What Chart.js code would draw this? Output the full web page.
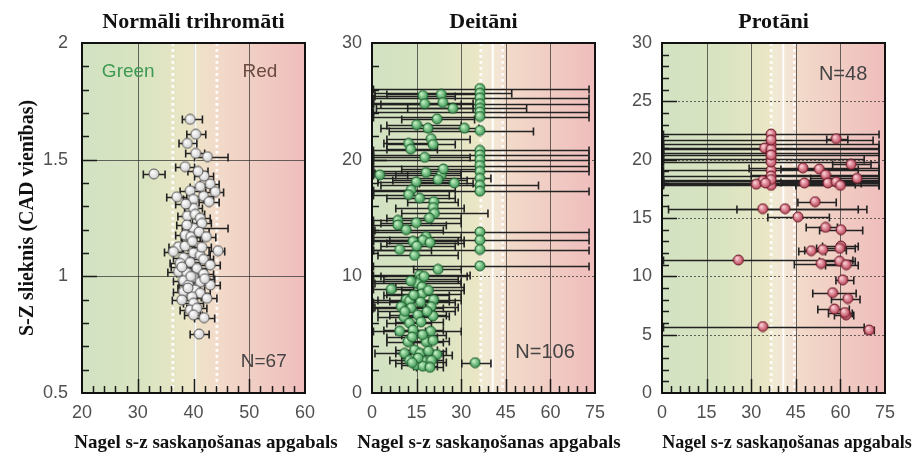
<!DOCTYPE html>
<html>
<head>
<meta charset="utf-8">
<script src="https://cdn.jsdelivr.net/npm/chart.js@4/dist/chart.umd.min.js"></script>
<style>
body{margin:0;background:#fff;width:913px;height:461px;overflow:hidden;position:relative}
canvas{position:absolute;top:0}
</style>
</head>
<body>
<canvas id="c1" width="345" height="461" style="left:0"></canvas>
<canvas id="c2" width="300" height="461" style="left:330px"></canvas>
<canvas id="c3" width="293" height="461" style="left:620px"></canvas>
<script>
// Normāli trihromāti
const normX = [39.4,40.4,38.9,40.4,42.5,38.5,32.9,41.9,43.0,43.9,39.4,37.0,40.0,41.8,42.8,40.0,38.9,40.3,41.2,41.5,40.0,38.5,39.5,37.3,38.5,36.4,44.4,40.0,41.2,38.2,37.6,39.4,41.8,43.0,40.6,37.3,38.8,41.8,40.0,38.2,41.2,43.0,39.1,40.3,38.2,41.2,39.7,37.9,42.4,40.0,39.4,40.6,40.0,41.9,41.0,39.8,41.0,38.8,42.3,37.9,41.5,39.0,42.0,38.6,41.2,40.8,39.5];
const normY = [1.673,1.609,1.570,1.527,1.513,1.470,1.439,1.430,1.396,1.363,1.367,1.341,1.330,1.344,1.320,1.292,1.259,1.266,1.249,1.227,1.206,1.177,1.170,1.127,1.130,1.106,1.110,1.100,1.090,1.080,1.056,1.060,1.073,1.049,1.034,1.020,1.016,1.010,0.996,0.982,0.975,0.963,0.963,0.942,0.935,0.928,0.913,0.899,0.906,0.885,0.856,0.863,0.835,0.823,0.753,1.150,1.190,1.220,1.170,1.040,1.125,0.950,0.990,1.310,1.385,1.450,1.000];
const normLo = [38.0,38.8,37.4,38.6,40.2,36.8,31.0,40.2,41.2,42.2,37.6,35.2,38.2,40.0,41.0,38.4,37.2,38.6,39.4,39.8,38.0,36.8,37.8,35.6,36.8,34.8,42.8,38.2,39.4,36.4,35.8,37.6,40.0,41.2,38.8,35.4,37.0,40.0,38.2,36.4,39.4,41.2,37.4,38.6,36.4,39.4,38.0,36.2,40.6,38.2,37.6,38.8,38.4,40.2,39.4,38.0,39.2,37.0,40.6,36.0,39.8,37.2,40.2,36.8,39.4,39.0,37.8];
const normHi = [41.6,42.2,40.6,42.0,46.2,40.2,34.9,43.6,44.6,45.4,41.2,38.8,41.8,43.6,44.6,41.6,40.6,42.0,43.0,43.2,46.2,40.2,41.2,39.0,40.2,38.0,45.6,41.8,43.0,40.0,39.4,41.2,43.6,44.8,42.4,39.2,40.6,43.6,41.8,40.0,43.0,44.8,40.8,42.0,40.0,43.0,41.4,39.6,44.2,41.8,41.2,42.4,41.6,43.8,42.8,41.6,42.8,40.6,44.0,39.8,43.2,40.8,43.8,40.4,43.0,42.6,41.2];

// Deitāni
const deutX = [36.3,36.3,36.3,36.3,36.3,36.3,36.3,36.3,36.3,36.3,36.3,36.3,36.3,36.3,36.3,36.3,36.3,36.3,36.3,36.3,
  17.1,17.7,23.3,23.8,27.2,21.9,18.8,31.1,19.9,12.3,13.0,17.7,18.2,23.3,2.6,22.2,14.9,27.7,13.2,12.3,20.8,20.6,21.0,19.3,8.7,8.7,14.9,18.2,17.1,13.8,9.3,14.3,22.2,16.0,16.5,15.2,16.8,6.5,16.8,11.5,12.6,16.3,20.7,9.8,13.2,19.9,15.4,10.8,20.5,12.6,16.5,9.3,13.8,19.7,12.1,18.2,20.5,14.3,10.9,16.2,21.8,12.6,17.7,20.0,14.9,17.1,34.7,
  15.5,19.0,13.5,17.0,11.0,18.5,14.0,19.0,13.0,17.5,15.0,19.5,11.5,16.0,24.0,20.5,15.0,13.5,19.5];
const deutY = [26.1,25.7,25.3,24.8,24.4,24.1,23.7,22.5,20.8,20.4,20.0,19.5,19.0,18.4,17.8,17.3,13.8,13.1,12.3,10.9,
  25.5,24.8,25.6,24.9,24.4,23.5,22.7,22.7,21.8,21.4,20.9,20.2,18.9,18.7,18.7,18.3,18.1,18.0,17.4,17.0,16.4,15.9,15.4,15.0,14.8,14.4,14.6,13.4,13.1,13.0,12.3,11.8,10.6,10.1,9.8,9.4,9.1,8.9,8.5,8.0,7.9,7.8,8.0,7.4,7.3,7.4,6.7,6.5,6.6,6.0,6.1,5.3,5.4,5.3,4.4,4.4,4.5,3.7,3.4,3.4,3.3,2.8,2.7,2.8,2.4,2.3,2.6,
  3.0,3.6,4.8,5.0,7.0,7.0,8.4,8.8,9.6,10.0,12.6,12.9,14.0,16.7,19.2,21.3,23.0,2.6,2.2];
const deutLo = [0.5,1,0.5,0.5,1.5,0.5,0.5,5.8,0.5,0.5,0.5,0.5,0.5,2,3,0.5,0.5,0.5,0.5,0.5,
  1,3,5,0.5,12,10,3,20,5,4,5,0.5,1,8,0.5,7,2,16,0.5,0.5,12,8,10,5,0.5,0.5,3,0.5,6,0.5,0.5,2,14,0.5,4,1,8,0.5,5,2,6,0.5,10,1,0.5,10,6,2,12,5,8,0.5,4,8,5,12,14,8,1,8,17,6,12,15,10,14,30.2,
  10,13,5,10,2,12,4,10,0.5,3,3,5,1,5,10,5,5,8,15];
const deutHi = [73,47,73,73,52,73,73,54.3,73,73,73,73,73,40,56,73,73,73,73,73,
  28,30,36,34,34,34.5,32,36,33,20,22,33,30,30,12,32,28,34,28,26,29,31,39,30,20,25,30,30,31,29,20,29,30,33,29,30,31,14,30,22,26,28,30,18,24,29,25,20,26,20,24,18,24,30,20,24,26,22,17,24,27,18,25,24,20,22,40,
  22,25,22,25,21,28,26,31,30,32,28,31,24,28,35,28,30,18,24];

// Protāni
const protX = [36.7,58.6,36.7,34.5,36.7,36.7,47.4,52.9,63.6,55.0,36.7,36.7,65.6,33.9,31.7,36.7,47.9,55.8,58.6,51.5,33.9,41.4,45.7,55.0,60.2,60.2,50.2,54.1,59.8,25.7,53.5,59.7,60.8,57.4,62.5,58.0,61.9,61.5,33.9,69.7,36.7,36.7,36.7,34.8,36.7,36.7,60.0,62.0];
const protY = [22.2,21.8,21.3,21.0,20.6,20.1,19.3,19.2,19.6,18.7,19.1,18.6,18.4,18.2,17.9,17.8,18.0,18.0,18.1,16.4,15.8,15.8,15.1,14.2,14.0,12.6,12.2,12.3,12.4,11.4,11.1,11.3,9.7,8.6,8.1,7.2,6.7,6.9,5.7,5.4,20.9,19.8,18.3,18.0,21.7,20.4,17.8,11.0];
const protLo = [0.5,55.4,0.5,0.5,0.5,0.5,29.3,40,57.4,30,0.5,0.5,50,0.5,0.5,0.5,0.5,35,40,45.7,2.2,25.2,35.6,48.5,53,54,46,48,52,0.5,44.5,53,58.5,50.7,57,52.4,58,56,0.5,68.3,0.5,0.5,0.5,0.5,0.5,0.5,45,55];
const protHi = [73,62.5,73,73,73,68,73,66,70.3,73,73,73,73,73,65,73,73,67,73,58.6,66,68.9,56.3,59,67.5,66,55,62,65,64.2,62,65,64.5,65.3,66.6,63,64.5,64,68,71.4,73,73,73,73,71,73,73,66];

// tick labels
const normXTicks = [20,30,40,50,60];
const normYTicks = [0.5,1,1.5,2];
const deutXTicks = [0,15,30,45,60,75];
const deutYTicks = [0,10,20,30];
const protXTicks = [0,15,30,45,60,75];
const protYTicks = [0,5,10,15,20,25,30];

const xLabel = 'Nagel s-z saskaņošanas apgabals';
const SERIF = '"Liberation Serif", "Times New Roman", serif';
const SANS = '"Liberation Sans", Arial, sans-serif';

function ball(c1, c2, edge) {
    const cv = document.createElement('canvas');
    cv.width = 12; cv.height = 12;
    const g = cv.getContext('2d');
    const gr = g.createRadialGradient(4.3, 4.1, 0.3, 6, 6, 5.6);
    gr.addColorStop(0, c1);
    gr.addColorStop(1, c2);
    g.fillStyle = gr;
    g.beginPath();
    g.arc(6, 6, 5, 0, Math.PI * 2);
    g.fill();
    g.strokeStyle = edge;
    g.lineWidth = 1;
    g.stroke();
    return cv;
}

function makePanel(cfg){
    return {
        id: 'panel',
        beforeDatasetsDraw(chart){
            const {ctx, chartArea: a} = chart;
            const xs = chart.scales.x, ys = chart.scales.y;
            ctx.save();
            const g = ctx.createLinearGradient(a.left, 0, a.right, 0);
            g.addColorStop(0, '#d2e2c2');
            g.addColorStop(0.28, '#d9e4c1');
            g.addColorStop(0.48, '#ebe6c6');
            g.addColorStop(0.6, '#f2dbca');
            g.addColorStop(1, '#efbdbc');
            ctx.fillStyle = g;
            ctx.fillRect(a.left, a.top, a.width, a.height);

            if(cfg.band){
                const b1 = xs.getPixelForValue(cfg.dotted[0]), b2 = xs.getPixelForValue(cfg.dotted[1]);
                ctx.fillStyle = 'rgba(255,255,255,0.22)';
                ctx.fillRect(b1, a.top, b2 - b1, a.height);
            }

            ctx.lineWidth = 1;
            ctx.strokeStyle = 'rgba(55,55,55,0.75)';
            cfg.gridX.forEach(v => {
                const px = Math.round(xs.getPixelForValue(v)) + 0.5;
                ctx.beginPath(); ctx.moveTo(px, a.top); ctx.lineTo(px, a.bottom); ctx.stroke();
            });
            ctx.setLineDash(cfg.gridDash);
            cfg.gridY.forEach(v => {
                const py = Math.round(ys.getPixelForValue(v)) + 0.5;
                ctx.beginPath(); ctx.moveTo(a.left, py); ctx.lineTo(a.right, py); ctx.stroke();
            });

            ctx.strokeStyle = 'rgba(255,255,255,0.95)';
            ctx.setLineDash([]);
            ctx.lineWidth = 2;
            const sx = xs.getPixelForValue(cfg.solid);
            ctx.beginPath(); ctx.moveTo(sx, a.top); ctx.lineTo(sx, a.bottom); ctx.stroke();
            ctx.lineWidth = 2.8;
            ctx.setLineDash([2.8, 3.2]);
            cfg.dotted.forEach(v => {
                const px = xs.getPixelForValue(v);
                ctx.beginPath(); ctx.moveTo(px, a.top); ctx.lineTo(px, a.bottom); ctx.stroke();
            });
            ctx.setLineDash([]);

            // error bars
            ctx.strokeStyle = '#222';
            ctx.lineWidth = 1.6;
            cfg.lo.forEach((lo, i) => {
                const py = Math.round(ys.getPixelForValue(cfg.yv[i])) + 0.5;
                const x1 = xs.getPixelForValue(lo), x2 = xs.getPixelForValue(cfg.hi[i]);
                ctx.beginPath();
                ctx.moveTo(x1, py); ctx.lineTo(x2, py);
                ctx.moveTo(x1, py - 4); ctx.lineTo(x1, py + 4);
                ctx.moveTo(x2, py - 4); ctx.lineTo(x2, py + 4);
                ctx.stroke();
            });
            ctx.restore();
        },
        afterDatasetsDraw(chart){
            const {ctx, chartArea: a} = chart;
            const xs = chart.scales.x, ys = chart.scales.y;
            ctx.save();
            ctx.strokeStyle = '#1a1a1a';
            ctx.lineWidth = 1.5;
            const isMajor = (v, m) => Math.abs(v / m - Math.round(v / m)) < 1e-6;
            let n = Math.round((xs.max - xs.min) / cfg.minorX);
            for(let k = 1; k < n; k++){
                const v = xs.min + k * cfg.minorX;
                const px = Math.round(xs.getPixelForValue(v)) + 0.5;
                const len = isMajor(v, cfg.majorX) ? 14 : 7;
                ctx.beginPath(); ctx.moveTo(px, a.bottom); ctx.lineTo(px, a.bottom - len); ctx.stroke();
            }
            n = Math.round((ys.max - ys.min) / cfg.minorY);
            for(let k = 1; k < n; k++){
                const v = ys.min + k * cfg.minorY;
                const py = Math.round(ys.getPixelForValue(v)) + 0.5;
                const len = isMajor(v, cfg.majorY) ? 15 : 7;
                ctx.beginPath(); ctx.moveTo(a.left, py); ctx.lineTo(a.left + len, py); ctx.stroke();
            }
            ctx.lineWidth = 2;
            ctx.strokeStyle = '#111';
            ctx.strokeRect(a.left, a.top, a.width, a.height);
            ctx.restore();
        },
        afterDraw(chart){
            const {ctx} = chart;
            const xs = chart.scales.x, ys = chart.scales.y;
            ctx.save();
            ctx.textAlign = 'center';
            ctx.textBaseline = 'middle';
            cfg.notes.forEach(t => {
                ctx.font = t.size + 'px ' + SANS;
                ctx.fillStyle = t.color;
                ctx.fillText(t.text, xs.getPixelForValue(t.x), ys.getPixelForValue(t.y));
            });
            ctx.font = 'bold ' + cfg.labelSize + 'px ' + SERIF;
            ctx.fillStyle = '#111';
            ctx.fillText(xLabel, cfg.labelX, 443);
            ctx.restore();
        }
    };
}

function buildChart(id, p){
    return new Chart(document.getElementById(id), {
        type: 'scatter',
        data: {
            datasets: [{
                data: p.xv.map((v, i) => ({x: v, y: p.yv[i]})),
                pointStyle: p.img,
                pointRadius: 5,
                showLine: false
            }]
        },
        options: {
            responsive: false,
            animation: false,
            events: [],
            devicePixelRatio: 1,
            layout: { padding: { left: 0, right: p.padRight, top: 0, bottom: 0 } },
            plugins: {
                legend: { display: false },
                tooltip: { enabled: false },
                title: {
                    display: true,
                    text: p.title,
                    fullSize: false,
                    color: '#111',
                    font: { family: SERIF, size: 22, weight: 'bold' },
                    padding: { top: 9, bottom: 7.6 }
                }
            },
            scales: {
                x: {
                    type: 'linear',
                    min: p.xTicks[0],
                    max: p.xTicks[p.xTicks.length - 1],
                    afterBuildTicks: s => { s.ticks = p.xTicks.map(v => ({value: v})); },
                    afterFit: s => { s.height = 68; },
                    grid: { display: false, drawTicks: false },
                    border: { display: false },
                    ticks: {
                        padding: 9, color: '#505050', autoSkip: false, maxRotation: 0,
                        font: { family: SANS, size: 18 },
                        callback: v => String(v)
                    }
                },
                y: {
                    type: 'linear',
                    min: p.yTicks[0],
                    max: p.yTicks[p.yTicks.length - 1],
                    afterBuildTicks: s => { s.ticks = p.yTicks.map(v => ({value: v})); },
                    afterFit: s => { s.width = p.yWidth; },
                    grid: { display: false, drawTicks: false },
                    border: { display: false },
                    ticks: {
                        padding: p.yPad, color: '#505050', autoSkip: false,
                        font: { family: SANS, size: 18 },
                        callback: v => String(v)
                    },
                    title: {
                        display: !!p.yTitle,
                        text: p.yTitle || '',
                        color: '#111',
                        font: { family: SERIF, size: 20, weight: 'bold' },
                        padding: { top: 16, bottom: 0 }
                    }
                }
            }
        },
        plugins: [makePanel(p)]
    });
}

buildChart('c1', {
    title: 'Normāli trihromāti', yTitle: 'S-Z slieknis (CAD vienības)',
    xv: normX, yv: normY, lo: normLo, hi: normHi,
    xTicks: normXTicks, yTicks: normYTicks,
    img: ball('#ffffff', '#cccccc', '#555'),
    padRight: 40, yWidth: 82, yPad: 14,
    gridX: [30, 40, 50], gridY: [1, 1.5], gridDash: [],
    solid: 40.3, dotted: [36.3, 44.2], band: false,
    minorX: 2, majorX: 10, minorY: 0.1, majorY: 0.5,
    notes: [
        {text: 'Green', x: 28.3, y: 1.876, size: 19, color: '#3d9a52'},
        {text: 'Red', x: 51.9, y: 1.876, size: 19, color: '#6b4a40'},
        {text: 'N=67', x: 52.6, y: 0.633, size: 19, color: '#444'}
    ],
    labelSize: 19, labelX: 206
});

buildChart('c2', {
    title: 'Deitāni',
    xv: deutX, yv: deutY, lo: deutLo, hi: deutHi,
    xTicks: deutXTicks, yTicks: deutYTicks,
    img: ball('#c8f5c8', '#2f8c47', '#1f5e30'),
    padRight: 35, yWidth: 42, yPad: 10,
    gridX: [15, 30, 45, 60], gridY: [10, 20], gridDash: [2, 2],
    solid: 40.6, dotted: [36.6, 44.0], band: true,
    minorX: 3, majorX: 15, minorY: 2, majorY: 10,
    notes: [
        {text: 'N=106', x: 58.2, y: 3.51, size: 20, color: '#444'}
    ],
    labelSize: 19, labelX: 159
});

buildChart('c3', {
    title: 'Protāni',
    xv: protX, yv: protY, lo: protLo, hi: protHi,
    xTicks: protXTicks, yTicks: protYTicks,
    img: ball('#ffd6dc', '#b33349', '#6a1c29'),
    padRight: 28, yWidth: 42, yPad: 10,
    gridX: [15, 30, 45, 60], gridY: [5, 10, 15, 20, 25], gridDash: [2, 2],
    solid: 40.8, dotted: [36.7, 44.5], band: true,
    minorX: 3, majorX: 15, minorY: 1, majorY: 5,
    notes: [
        {text: 'N=48', x: 60.9, y: 27.26, size: 20, color: '#444'}
    ],
    labelSize: 18, labelX: 167
});
</script>
</body>
</html>
